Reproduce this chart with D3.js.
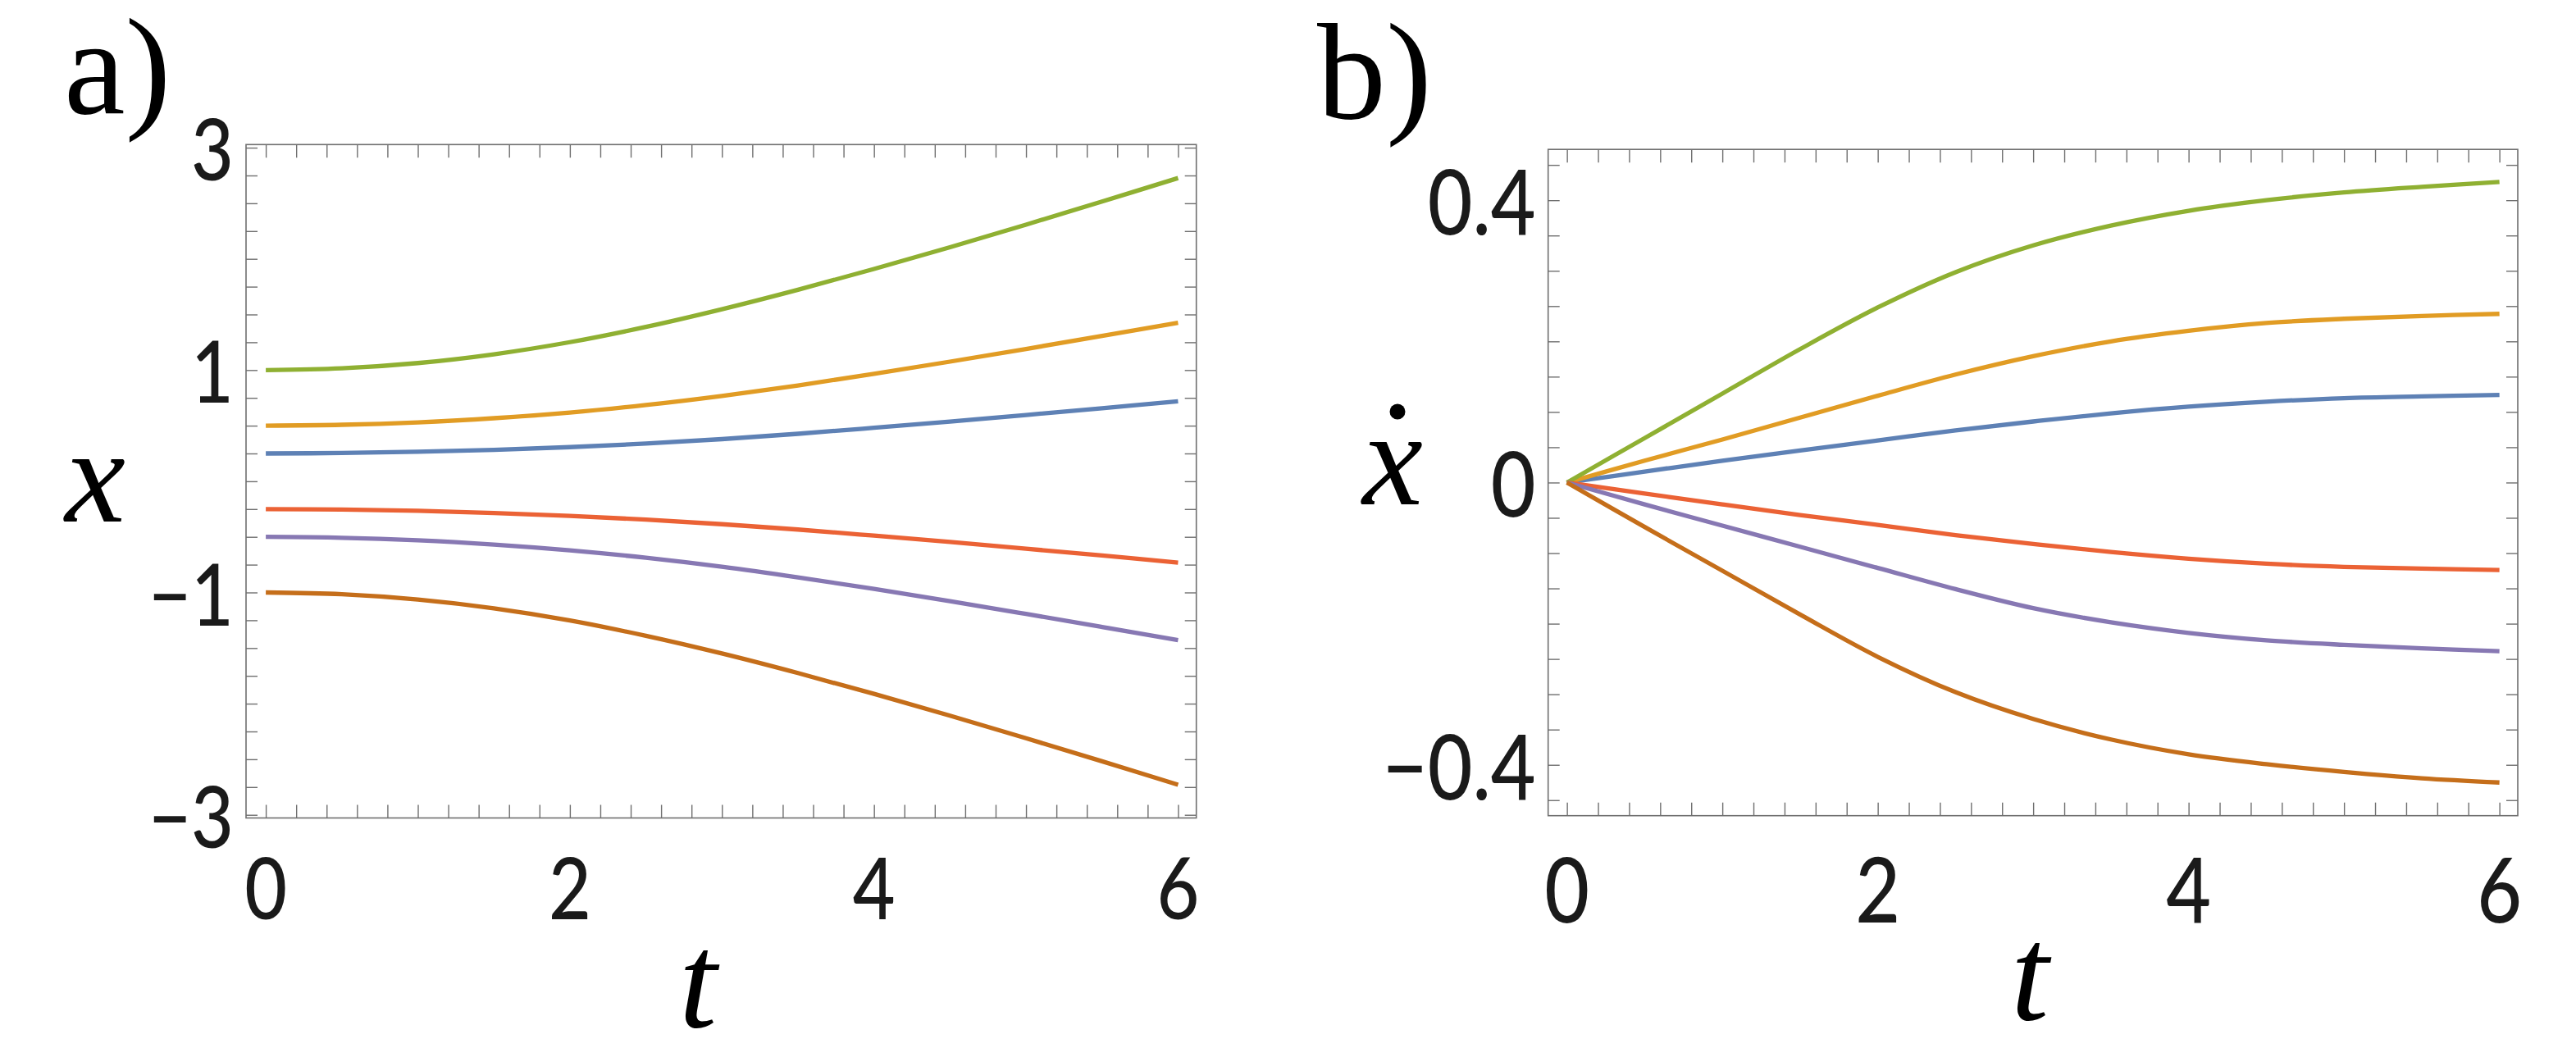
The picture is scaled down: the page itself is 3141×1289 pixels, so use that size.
<!DOCTYPE html>
<html>
<head>
<meta charset="utf-8">
<script src="https://cdn.jsdelivr.net/npm/d3@7"></script>
<style>
  body { margin: 0; background: #fff; }
  svg { display: block; }
</style>
</head>
<body>
<script>
const width = 3141
const height = 1289

// time samples shared by both panels
const times = [0, 0.5, 1, 1.5, 2, 2.5, 3, 3.5, 4, 4.5, 5, 5.5, 6]

// Mathematica default palette, in plotting order
const colors = ['#5e81b5', '#e19c24', '#8fb032', '#eb6235', '#8778b3', '#c56e1a']

// panel a) : x(t)
const posBlue   = [0.250, 0.254, 0.265, 0.283, 0.307, 0.339, 0.379, 0.427, 0.481, 0.537, 0.596, 0.657, 0.720]
const posOrange = [0.500, 0.508, 0.530, 0.567, 0.618, 0.686, 0.768, 0.862, 0.966, 1.076, 1.190, 1.307, 1.426]
const posGreen  = [1.000, 1.016, 1.063, 1.142, 1.251, 1.388, 1.547, 1.722, 1.909, 2.105, 2.308, 2.516, 2.727]
const posRed    = [-0.250, -0.254, -0.266, -0.285, -0.311, -0.345, -0.386, -0.434, -0.489, -0.546, -0.606, -0.668, -0.731]
const posPurple = [-0.500, -0.508, -0.531, -0.569, -0.621, -0.688, -0.769, -0.864, -0.968, -1.078, -1.193, -1.310, -1.428]
const posBrown  = [-1.000, -1.016, -1.064, -1.143, -1.252, -1.390, -1.549, -1.725, -1.912, -2.108, -2.311, -2.518, -2.730]

// panel b) : x-dot(t)
const velBlue   = [0, 0.0155, 0.031, 0.0455, 0.0595, 0.074, 0.0865, 0.098, 0.1075, 0.1145, 0.1195, 0.122, 0.124]
const velOrange = [0, 0.031, 0.061, 0.092, 0.123, 0.153, 0.179, 0.200, 0.215, 0.226, 0.232, 0.236, 0.239]
const velGreen  = [0, 0.063, 0.126, 0.189, 0.248, 0.298, 0.336, 0.364, 0.385, 0.400, 0.411, 0.419, 0.426]
const velRed    = [0, -0.0155, -0.031, -0.046, -0.060, -0.0745, -0.087, -0.0985, -0.108, -0.115, -0.1195, -0.122, -0.124]
const velPurple = [0, -0.031, -0.061, -0.091, -0.121, -0.151, -0.178, -0.198, -0.213, -0.2235, -0.230, -0.235, -0.239]
const velBrown  = [0, -0.063, -0.125, -0.187, -0.247, -0.297, -0.335, -0.364, -0.385, -0.399, -0.410, -0.419, -0.425]

const positions  = [posBlue, posOrange, posGreen, posRed, posPurple, posBrown]
const velocities = [velBlue, velOrange, velGreen, velRed, velPurple, velBrown]

// ticks and tick labels
const tTicks  = d3.range(0, 6.001, 0.2)
const tLabels = [0, 2, 4, 6]
const xTicks  = d3.range(-3, 3.001, 0.25)
const xLabels = [-3, -1, 1, 3]
const vTicks  = d3.range(-0.45, 0.451, 0.05)
const vLabels = [-0.4, 0, 0.4]

const serif = "'Liberation Serif', 'Times New Roman', serif"
const sans = "Lato, 'Open Sans', sans-serif"
const frameColor = '#6f6f6f'
const squeeze = 0.86

const fmt = d => (d < 0 ? '\u2212' : '') + Math.abs(d)

const panels = [
  {
    name: 'a)', nameX: 78, nameY: 137.5,
    values: positions,
    x: d3.scaleLinear().domain([-0.13, 6.12]).range([300, 1458.7]),
    y: d3.scaleLinear().domain([-3.028, 3.028]).range([997.5, 176.3]),
    yTicks: xTicks, yLabels: xLabels,
    fontSize: 104, leftGap: 15, leftDy: 40, bottomDy: 123.5,
    yTitle: { x: 116, y: 636, dot: false },
    tTitle: { x: 851, y: 1252 }
  },
  {
    name: 'b)', nameX: 1606, nameY: 143.5,
    values: velocities,
    x: d3.scaleLinear().domain([-0.121, 6.118]).range([1887.7, 3070]),
    y: d3.scaleLinear().domain([-0.472, 0.472]).range([994.7, 182.2]),
    yTicks: vTicks, yLabels: vLabels,
    fontSize: 110, leftGap: 15, leftDy: 42, bottomDy: 130,
    yTitle: { x: 1698, y: 615, dot: true },
    tTitle: { x: 2475, y: 1243 }
  }
]

const svg = d3.select('body').append('svg')
  .attr('width', width)
  .attr('height', height)

svg.append('rect')
  .attr('width', width)
  .attr('height', height)
  .attr('fill', '#fff')

function drawPanel(p) {
  const g = svg.append('g')
  const [x0, x1] = p.x.range()
  const [y0, y1] = p.y.range()

  // curves
  const line = d3.line()
    .x((d, i) => p.x(times[i]))
    .y(d => p.y(d))
    .curve(d3.curveCatmullRom.alpha(0.5))

  g.append('g')
    .selectAll('path')
    .data(p.values)
    .join('path')
    .attr('d', line)
    .attr('fill', 'none')
    .attr('stroke', (d, i) => colors[i])
    .attr('stroke-width', 5.3)
    .attr('stroke-linejoin', 'round')

  // inward ticks on all four sides
  const styleTicks = sel => {
    sel.select('.domain').remove()
    sel.selectAll('line').attr('stroke', frameColor).attr('stroke-width', 1.4)
  }
  g.append('g').attr('transform', `translate(0,${y1})`)
    .call(d3.axisTop(p.x).tickValues(tTicks).tickSize(-16).tickFormat(''))
    .call(styleTicks)
  g.append('g').attr('transform', `translate(0,${y0})`)
    .call(d3.axisBottom(p.x).tickValues(tTicks).tickSize(-16).tickFormat(''))
    .call(styleTicks)
  g.append('g').attr('transform', `translate(${x0},0)`)
    .call(d3.axisLeft(p.y).tickValues(p.yTicks).tickSize(-14).tickFormat(''))
    .call(styleTicks)
  g.append('g').attr('transform', `translate(${x1},0)`)
    .call(d3.axisRight(p.y).tickValues(p.yTicks).tickSize(-14).tickFormat(''))
    .call(styleTicks)

  // frame
  g.append('rect')
    .attr('x', x0)
    .attr('y', y1)
    .attr('width', x1 - x0)
    .attr('height', y0 - y1)
    .attr('fill', 'none')
    .attr('stroke', frameColor)
    .attr('stroke-width', 1.6)

  // tick labels
  g.append('g')
    .selectAll('text')
    .data(tLabels)
    .join('text')
    .attr('transform', d => `translate(${p.x(d)},${y0 + p.bottomDy}) scale(${squeeze},1)`)
    .attr('text-anchor', 'middle')
    .attr('font-family', sans)
    .attr('font-weight', 500)
    .attr('font-size', p.fontSize)
    .attr('fill', '#1a1a1a')
    .text(fmt)

  g.append('g')
    .selectAll('text')
    .data(p.yLabels)
    .join('text')
    .attr('transform', d => `translate(${x0 - p.leftGap},${p.y(d) + p.leftDy}) scale(${squeeze},1)`)
    .attr('text-anchor', 'end')
    .attr('font-family', sans)
    .attr('font-weight', 500)
    .attr('font-size', p.fontSize)
    .attr('fill', '#1a1a1a')
    .text(fmt)

  // axis titles
  g.append('text')
    .attr('x', p.tTitle.x)
    .attr('y', p.tTitle.y)
    .attr('text-anchor', 'middle')
    .attr('font-family', serif)
    .attr('font-style', 'italic')
    .attr('font-size', 166)
    .text('t')

  g.append('text')
    .attr('x', p.yTitle.x)
    .attr('y', p.yTitle.y)
    .attr('text-anchor', 'middle')
    .attr('font-family', serif)
    .attr('font-style', 'italic')
    .attr('font-size', 166)
    .text('x')

  if (p.yTitle.dot) {
    g.append('circle')
      .attr('cx', p.yTitle.x + 6)
      .attr('cy', p.yTitle.y - 113)
      .attr('r', 9.5)
      .attr('fill', '#000')
  }

  // panel letter
  g.append('text')
    .attr('x', p.nameX)
    .attr('y', p.nameY)
    .attr('font-family', serif)
    .attr('font-size', 168)
    .text(p.name)
}

panels.forEach(drawPanel)
</script>
</body>
</html>
